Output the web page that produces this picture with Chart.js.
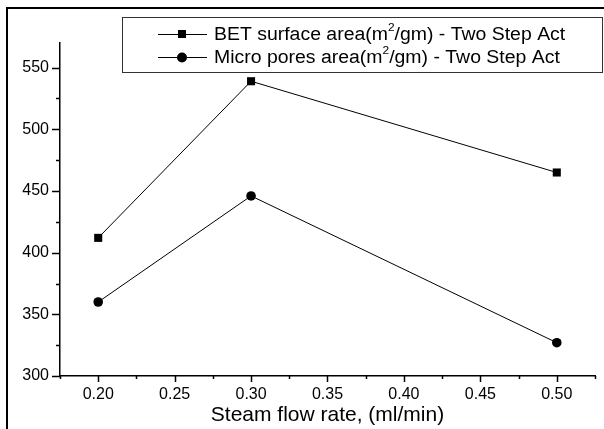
<!DOCTYPE html>
<html>
<head>
<meta charset="utf-8">
<script src="https://cdn.jsdelivr.net/npm/chart.js@4.4.1/dist/chart.umd.min.js"></script>
<style>
body { margin: 0; background: #fff; }
</style>
</head>
<body>
<canvas id="chart" width="604" height="429"></canvas>
<script>
// steam flow rate, ml/min
var flowRate = [0.20, 0.30, 0.50];
// areas in m2/gm
var betArea = [412, 539, 465];
var microArea = [360, 446, 327];
var seriesNames = ["BET surface area(m²/gm) - Two Step Act", "Micro pores area(m²/gm) - Two Step Act"];

// tick marks, labelled ones and the small ones in between
var xTickLabels = [0.20, 0.25, 0.30, 0.35, 0.40, 0.45, 0.50];
var xMinorTicks = [0.175, 0.225, 0.275, 0.325, 0.375, 0.425, 0.475, 0.525];
var yTickLabels = [300, 350, 400, 450, 500, 550];
var yMinorTicks = [325, 375, 425, 475, 525];

var fontName = "'Liberation Sans', Arial, sans-serif";

function buildTicks(labels, minors) {
	var all = [];
	for (var i = 0; i < labels.length; i++) all.push({value: labels[i], major: true});
	for (var i = 0; i < minors.length; i++) all.push({value: minors[i], major: false});
	all.sort(function(a, b) { return a.value - b.value; });
	return all;
}

// white page, the cropped outer frame, tick marks and the boxed legend
var framePlugin = {
	id: 'frame',
	beforeDraw: function(chart) {
		var c = chart.ctx;
		c.save();
		c.fillStyle = '#fff';
		c.fillRect(0, 0, chart.width, chart.height);
		c.strokeStyle = '#000';
		c.lineWidth = 2;
		c.beginPath();
		c.moveTo(7, chart.height);
		c.lineTo(7, 8);
		c.lineTo(chart.width, 8);
		c.stroke();
		c.restore();
	},
	afterDraw: function(chart) {
		var c = chart.ctx;
		var area = chart.chartArea;
		var xs = chart.scales.x, ys = chart.scales.y;
		c.save();
		c.strokeStyle = '#000';
		c.lineWidth = 1.5;
		c.beginPath();
		xs.ticks.forEach(function(t) {
			var px = Math.round(xs.getPixelForValue(t.value)) + 0.5;
			var len = t.major ? 6 : 3;
			c.moveTo(px, area.bottom);
			c.lineTo(px, area.bottom + len);
		});
		ys.ticks.forEach(function(t) {
			var py = Math.round(ys.getPixelForValue(t.value)) + 0.5;
			var len = t.major ? 8 : 4;
			c.moveTo(area.left - len, py);
			c.lineTo(area.left, py);
		});
		c.stroke();

		// legend box
		c.lineWidth = 1;
		c.strokeStyle = '#333';
		c.strokeRect(122.5, 17.5, 480, 55);
		var rows = [34, 57];
		chart.data.datasets.forEach(function(ds, i) {
			var y = rows[i];
			c.strokeStyle = '#000';
			c.beginPath();
			c.moveTo(158, y + 0.5);
			c.lineTo(207, y + 0.5);
			c.stroke();
			c.fillStyle = '#000';
			if (ds.pointStyle == 'rect') {
				c.fillRect(178, y - 4, 8, 8);
			} else {
				c.beginPath();
				c.arc(182, y + 0.5, 5, 0, Math.PI * 2);
				c.fill();
			}
			// label with the superscript 2, the original type is a bit wide so stretch it
			var parts = ds.label.split('²');
			c.save();
			c.translate(214, 0);
			c.scale(1.08, 1);
			var x = 0;
			c.textBaseline = 'middle';
			c.textAlign = 'left';
			c.font = '18px ' + fontName;
			c.fillText(parts[0], x, y + 1);
			x += c.measureText(parts[0]).width;
			c.font = '11px ' + fontName;
			c.fillText('2', x, y - 6);
			x += c.measureText('2').width;
			c.font = '18px ' + fontName;
			c.fillText(parts[1], x, y + 1);
			c.restore();
		});
		c.restore();
	}
};

var ctx = document.getElementById('chart').getContext('2d');
var chart = new Chart(ctx, {
	type: 'line',
	data: {
		datasets: [
			{
				label: seriesNames[0],
				data: flowRate.map(function(f, i) { return {x: f, y: betArea[i]}; }),
				borderColor: '#000',
				backgroundColor: '#000',
				borderWidth: 1,
				pointStyle: 'rect',
				pointRadius: 5.7,
				pointBorderWidth: 0,
				tension: 0
			},
			{
				label: seriesNames[1],
				data: flowRate.map(function(f, i) { return {x: f, y: microArea[i]}; }),
				borderColor: '#000',
				backgroundColor: '#000',
				borderWidth: 1,
				pointStyle: 'circle',
				pointRadius: 4.8,
				pointBorderWidth: 0,
				tension: 0
			}
		]
	},
	options: {
		responsive: false,
		animation: false,
		layout: {padding: {top: 43, right: 8, left: 0, bottom: 0}},
		plugins: {
			legend: {display: false},
			tooltip: {enabled: false}
		},
		scales: {
			x: {
				type: 'linear',
				min: 0.175,
				max: 0.525,
				afterBuildTicks: function(scale) { scale.ticks = buildTicks(xTickLabels, xMinorTicks); },
				afterFit: function(scale) { scale.height = 53; },
				grid: {display: false, drawTicks: false},
				border: {display: true, color: '#000', width: 1.5},
				ticks: {
					autoSkip: false,
					maxRotation: 0,
					padding: 9,
					color: '#000',
					font: {family: fontName, size: 16},
					callback: function(v) { return xTickLabels.indexOf(v) >= 0 ? v.toFixed(2) : ''; }
				},
				title: {
					display: true,
					text: 'Steam flow rate, (ml/min)',
					color: '#000',
					font: {family: fontName, size: 21},
					padding: {top: 0, bottom: 1}
				}
			},
			y: {
				min: 300,
				max: 570,
				afterBuildTicks: function(scale) { scale.ticks = buildTicks(yTickLabels, yMinorTicks); },
				afterFit: function(scale) { scale.width = 60; },
				grid: {display: false, drawTicks: false},
				border: {display: true, color: '#000', width: 1.5},
				ticks: {
					autoSkip: false,
					padding: 11,
					color: '#000',
					font: {family: fontName, size: 16},
					callback: function(v) { return yTickLabels.indexOf(v) >= 0 ? String(v) : ''; }
				}
			}
		}
	},
	plugins: [framePlugin]
});
</script>
</body>
</html>
